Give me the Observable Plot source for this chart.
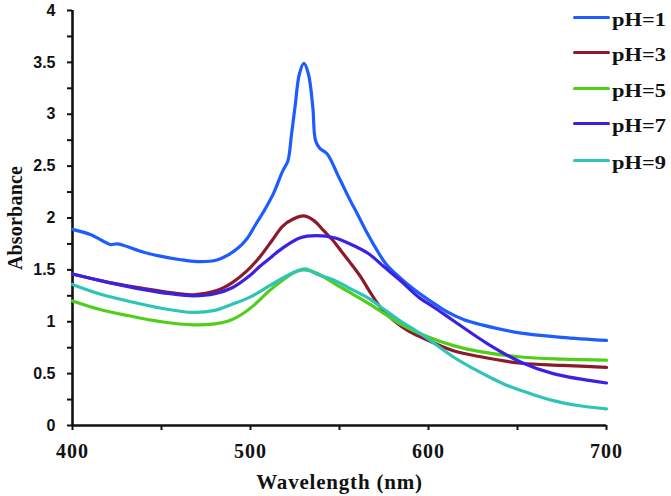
<!DOCTYPE html>
<html>
<head>
<meta charset="utf-8">
<script src="https://cdn.jsdelivr.net/npm/d3@7"></script>
<script src="https://cdn.jsdelivr.net/npm/@observablehq/plot@0.6"></script>
<style>
  html, body { margin: 0; padding: 0; background: #fff; }
  #wrap { position: relative; width: 671px; height: 496px; }
  .leg { position: absolute; left: 573px; font-family: "Liberation Serif", "Times New Roman", serif; font-weight: bold; font-size: 19px; color: #111; }
  .leg .ln { position: absolute; left: 0; width: 37px; height: 3.5px; border-radius: 2px; }
  .leg .tx { position: absolute; left: 39px; white-space: nowrap; line-height: 19px; top: -7.6px; transform: scaleX(1.18); transform-origin: left center; }
</style>
</head>
<body>
<div id="wrap"></div>
<script>
// ---- data ----
const series = ["pH=1", "pH=3", "pH=5", "pH=7", "pH=9"];
const colors = ["#1d5cff", "#8c1a2b", "#4fcf17", "#3b22e3", "#2ec4b7"];

const wl_pH1  = [400, 410, 418, 421, 425, 428, 440, 450, 460, 470, 480, 487, 493, 498, 503, 508, 513, 518, 521, 523, 525, 527.5, 530, 532.5, 535, 536.5, 539, 543, 550, 556, 560, 566, 571, 576, 583, 592, 601, 610, 620, 630, 652, 675, 700];
const abs_pH1 = [1.89, 1.84, 1.77, 1.745, 1.75, 1.74, 1.67, 1.63, 1.60, 1.58, 1.59, 1.64, 1.71, 1.80, 1.94, 2.08, 2.24, 2.45, 2.55, 2.80, 3.07, 3.39, 3.49, 3.39, 3.07, 2.75, 2.67, 2.62, 2.38, 2.17, 2.04, 1.84, 1.69, 1.56, 1.44, 1.31, 1.20, 1.10, 1.02, 0.97, 0.89, 0.85, 0.82];

const wl_pH3  = [400, 420, 440, 455, 468, 481, 490, 498, 505, 512, 518, 524, 530, 536, 541, 546, 551, 556, 562, 567, 573, 580, 588, 596, 614, 630, 652, 675, 700];
const abs_pH3 = [1.46, 1.38, 1.32, 1.28, 1.26, 1.30, 1.38, 1.49, 1.62, 1.78, 1.92, 1.99, 2.02, 1.97, 1.88, 1.79, 1.68, 1.57, 1.43, 1.29, 1.14, 1.02, 0.92, 0.85, 0.72, 0.66, 0.60, 0.58, 0.56];

const wl_pH5  = [400, 415, 431, 450, 468, 480, 488, 495, 502, 510, 518, 525, 530, 537, 547, 556, 566, 575, 584, 596, 614, 630, 652, 675, 700];
const abs_pH5 = [1.20, 1.12, 1.06, 1.00, 0.97, 0.98, 1.01, 1.07, 1.16, 1.29, 1.40, 1.48, 1.50, 1.47, 1.37, 1.28, 1.18, 1.08, 0.98, 0.88, 0.77, 0.71, 0.66, 0.64, 0.63];

const wl_pH7  = [400, 420, 440, 455, 468, 480, 490, 500, 505, 510, 518, 528, 537, 547, 556, 566, 575, 584, 595, 603, 614, 633, 652, 670, 700];
const abs_pH7 = [1.46, 1.38, 1.31, 1.27, 1.25, 1.27, 1.33, 1.45, 1.53, 1.60, 1.71, 1.81, 1.83, 1.81, 1.75, 1.66, 1.53, 1.40, 1.23, 1.14, 1.01, 0.79, 0.61, 0.50, 0.41];

const wl_pH9  = [400, 415, 431, 450, 468, 480, 490, 500, 510, 520, 528, 531, 537, 547, 556, 566, 575, 584, 596, 614, 625, 635, 645, 655, 670, 685, 700];
const abs_pH9 = [1.36, 1.27, 1.20, 1.13, 1.09, 1.11, 1.17, 1.24, 1.34, 1.44, 1.50, 1.51, 1.46, 1.40, 1.32, 1.23, 1.12, 1.01, 0.88, 0.66, 0.55, 0.46, 0.38, 0.32, 0.24, 0.19, 0.16];

const xTicks = [400, 500, 600, 700];
const xMinor = [450, 550, 650];
const yTicks = [0, 0.5, 1, 1.5, 2, 2.5, 3, 3.5, 4];
const yMinor = [0.25, 0.75, 1.25, 1.75, 2.25, 2.75, 3.25, 3.75];
const xTitle = "Wavelength (nm)";
const yTitle = "Absorbance";

// ---- build table ----
const wls = [wl_pH1, wl_pH3, wl_pH5, wl_pH7, wl_pH9];
const abss = [abs_pH1, abs_pH3, abs_pH5, abs_pH7, abs_pH9];
const rows = [];
series.forEach((s, i) => wls[i].forEach((w, j) => rows.push({series: s, wl: w, abs: abss[i][j]})));

const serif = "'Liberation Serif', 'Times New Roman', serif";
const sans = "'Liberation Sans', Arial, sans-serif";

const chart = Plot.plot({
  width: 671,
  height: 496,
  marginLeft: 72,
  marginRight: 65,
  marginTop: 10,
  marginBottom: 71,
  style: {background: "white", color: "#111"},
  x: {domain: [400, 700]},
  y: {domain: [0, 4]},
  color: {domain: series, range: colors},
  marks: [
    Plot.axisY(yMinor, {tickSize: 5, tickFormat: () => "", strokeWidth: 2, label: null, stroke: "#111"}),
    Plot.axisY(yTicks, {tickSize: 5, tickPadding: 12, strokeWidth: 2, label: null, stroke: "#111",
      tickFormat: d => String(+d.toFixed(2)), fontFamily: sans, fontSize: 16, fontWeight: "bold", fill: "#111"}),
    Plot.axisX(xMinor, {tickSize: 5, tickFormat: () => "", strokeWidth: 2, label: null, stroke: "#111"}),
    Plot.axisX(xTicks, {tickSize: 5, tickPadding: 13, strokeWidth: 2, label: null, stroke: "#111",
      fontFamily: serif, fontSize: 20, fontWeight: "bold", fill: "#111"}),
    Plot.ruleX([400], {stroke: "#111", strokeWidth: 2.6}),
    Plot.ruleY([0], {stroke: "#111", strokeWidth: 2.6}),
    Plot.line(rows, {x: "wl", y: "abs", z: "series", stroke: "series", strokeWidth: 3.2, curve: "catmull-rom"}),
    Plot.text([xTitle], {frameAnchor: "bottom", dy: 57, textAnchor: "middle", lineAnchor: "middle", fontFamily: serif, fontSize: 21, fontWeight: "bold", fill: "#111"}),
    Plot.text([yTitle], {frameAnchor: "left", dx: -57, rotate: -90, textAnchor: "middle", lineAnchor: "middle", fontFamily: serif, fontSize: 20, fontWeight: "bold", fill: "#111"})
  ]
});

const allText = d3.select(chart).selectAll("text");
allText.filter(function () { return this.textContent === xTitle; }).style("letter-spacing", "0.8px");
allText.filter(function () { return this.textContent === yTitle; }).style("letter-spacing", "0.2px");
allText.filter(function () { return ["400", "500", "600", "700"].includes(this.textContent); }).style("letter-spacing", "1px");

const wrap = document.getElementById("wrap");
wrap.appendChild(chart);

// legend
const legTops = [17.3, 52.5, 88.3, 123.5, 160.5];
series.forEach((s, i) => {
  const item = document.createElement("div");
  item.className = "leg";
  item.style.top = legTops[i] + "px";
  item.innerHTML = `<div class="ln" style="background:${colors[i]};top:-1.75px"></div><div class="tx">${s}</div>`;
  wrap.appendChild(item);
});
</script>
</body>
</html>
